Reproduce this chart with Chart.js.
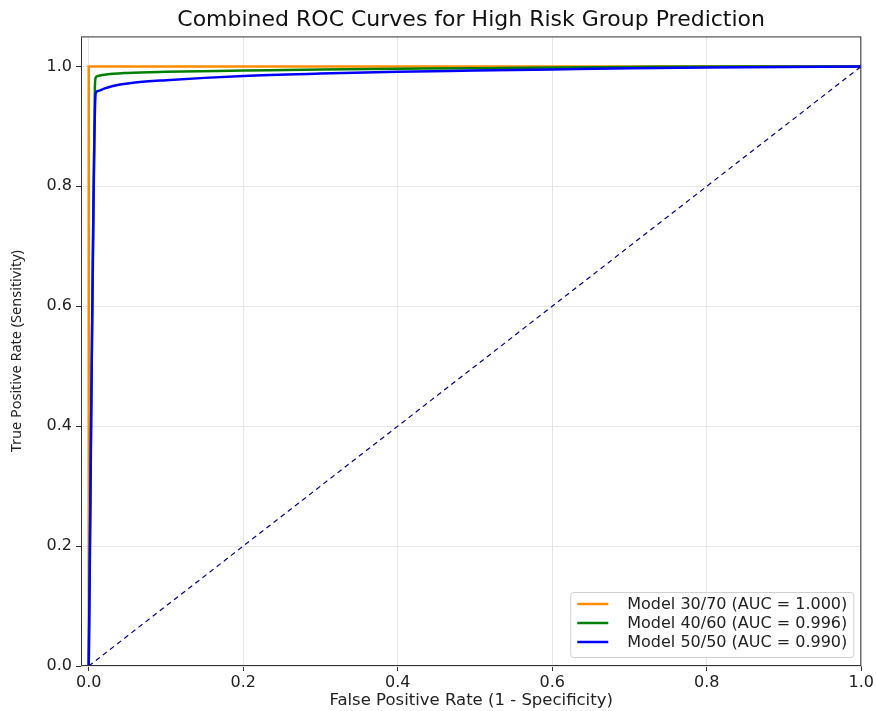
<!DOCTYPE html>
<html>
<head>
<meta charset="utf-8">
<script src="https://cdn.jsdelivr.net/npm/chart.js@4"></script>
<style>
  html, body { margin: 0; padding: 0; background: #fff; }
  #wrap { width: 876px; height: 711px; }
</style>
</head>
<body>
<div id="wrap"><canvas id="roc-chart" width="876" height="711"></canvas></div>
<script>
// ROC data
const fpr3070 = [0, 0, 1];
const tpr3070 = [0, 1, 1];

const fpr4060 = [0, 0.008, 0.009, 0.012, 0.02, 0.05, 0.1, 0.2, 0.3, 0.5, 0.7, 0.85, 1];
const tpr4060 = [0, 0.965, 0.981, 0.984, 0.986, 0.989, 0.991, 0.993, 0.995, 0.997, 0.999, 1, 1];

const fpr5050 = [0, 0.009, 0.012, 0.02, 0.03, 0.06, 0.1, 0.2, 0.3, 0.4, 0.5, 0.6, 0.7, 0.8, 0.9, 1];
const tpr5050 = [0, 0.955, 0.959, 0.963, 0.967, 0.973, 0.977, 0.984, 0.988, 0.991, 0.993, 0.995, 0.997, 0.998, 0.999, 1];

const chanceLine = [0, 1];

const modelLabels = ['Model 30/70 (AUC = 1.000)', 'Model 40/60 (AUC = 0.996)', 'Model 50/50 (AUC = 0.990)'];
const tickValues = [0, 0.2, 0.4, 0.6, 0.8, 1.0];

const FONT = "'DejaVu Sans', sans-serif";

function toPoints(xs, ys) {
  return xs.map((x, i) => ({ x: x, y: ys[i] }));
}

// frame + legend box like matplotlib
const framePlugin = {
  id: 'frame',
  afterDraw(chart) {
    const ctx = chart.ctx;
    const a = chart.chartArea;
    ctx.save();
    ctx.strokeStyle = '#333';
    ctx.lineWidth = 1;
    ctx.strokeRect(a.left + 0.5, a.top + 0.5, a.right - a.left - 1, a.bottom - a.top - 1);

    // legend, in plotting order
    const sets = chart.data.datasets.filter(d => d.inLegend).slice().reverse();
    const bx = a.right - 291, by = a.bottom - 74, bw = 283, bh = 65;
    ctx.fillStyle = 'rgba(255,255,255,0.85)';
    ctx.strokeStyle = '#d0d0d0';
    ctx.beginPath();
    ctx.roundRect(bx + 0.5, by + 0.5, bw, bh, 3);
    ctx.fill();
    ctx.stroke();
    ctx.font = '16px ' + FONT;
    ctx.textBaseline = 'middle';
    sets.forEach((d, i) => {
      const yy = by + 12 + i * 19;
      ctx.strokeStyle = d.borderColor;
      ctx.lineWidth = 2.5;
      ctx.beginPath();
      ctx.moveTo(bx + 7, yy);
      ctx.lineTo(bx + 38, yy);
      ctx.stroke();
      ctx.fillStyle = '#222';
      ctx.fillText(d.label, bx + 57, yy + 1);
    });
    ctx.restore();
  }
};

const gridStyle = {
  color: '#e6e6e6',
  lineWidth: 1,
  tickLength: 5,
  tickColor: '#333',
  drawTicks: true
};

const chart = new Chart(document.getElementById('roc-chart'), {
  type: 'scatter',
  data: {
    datasets: [
      {
        label: modelLabels[0],
        data: toPoints(fpr3070, tpr3070),
        borderColor: '#ff8c00',
        borderWidth: 2.5,
        inLegend: true
      },
      {
        label: modelLabels[1],
        data: toPoints(fpr4060, tpr4060),
        borderColor: '#008000',
        borderWidth: 2.5,
        cubicInterpolationMode: 'monotone',
        inLegend: true
      },
      {
        label: modelLabels[2],
        data: toPoints(fpr5050, tpr5050),
        borderColor: '#0000ff',
        borderWidth: 2.5,
        cubicInterpolationMode: 'monotone',
        inLegend: true
      },
      {
        label: 'chance',
        data: toPoints(chanceLine, chanceLine),
        borderColor: '#000080',
        borderWidth: 1.2,
        borderDash: [5, 4],
        inLegend: false
      }
    ].map(d => Object.assign({ showLine: true, pointRadius: 0, pointHoverRadius: 0, fill: false }, d))
      .reverse()
  },
  options: {
    responsive: false,
    animation: false,
    layout: { padding: { left: 0, right: 13, top: 0, bottom: 0 } },
    scales: {
      x: {
        type: 'linear',
        min: -0.01,
        max: 1.0,
        afterBuildTicks: s => { s.ticks = tickValues.map(v => ({ value: v })); },
        afterFit: s => { s.height = 45; },
        grid: gridStyle,
        border: { display: false },
        ticks: {
          color: '#222',
          font: { family: FONT, size: 16 },
          padding: 2,
          callback: v => Number(v).toFixed(1)
        },
        title: {
          display: true,
          text: 'False Positive Rate (1 - Specificity)',
          color: '#222',
          font: { family: FONT, size: 16.5 },
          padding: { top: 0, bottom: 0 }
        }
      },
      y: {
        type: 'linear',
        min: 0,
        max: 1.05,
        afterBuildTicks: s => { s.ticks = tickValues.map(v => ({ value: v })); },
        afterFit: s => { s.width = 81; },
        grid: gridStyle,
        border: { display: false },
        ticks: {
          color: '#222',
          font: { family: FONT, size: 16 },
          padding: 4,
          callback: v => Number(v).toFixed(1)
        },
        title: {
          display: true,
          text: 'True Positive Rate (Sensitivity)',
          color: '#222',
          font: { family: "'Noto Sans', sans-serif", size: 14.5 },
          padding: { top: 8, bottom: 4 }
        }
      }
    },
    plugins: {
      legend: { display: false },
      tooltip: { enabled: false },
      title: {
        display: true,
        fullSize: false,
        text: 'Combined ROC Curves for High Risk Group Prediction',
        color: '#111',
        font: { family: FONT, size: 22, weight: 'normal' },
        padding: { top: 7, bottom: 3 }
      }
    }
  },
  plugins: [framePlugin]
});
</script>
</body>
</html>
